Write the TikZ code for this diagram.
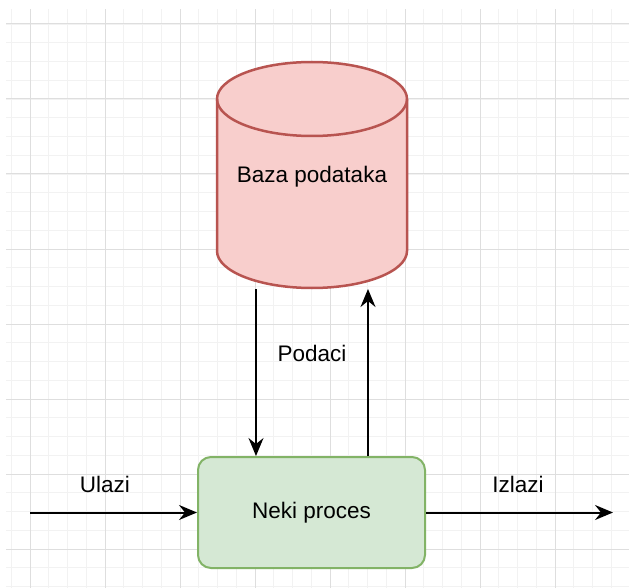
\documentclass[tikz,border=0pt]{standalone}
\usepackage{fontspec}
\setmainfont{Liberation Sans}
\usepackage{tikz}
\usetikzlibrary{arrows.meta}

\definecolor{dbfill}{HTML}{F8CECC}
\definecolor{dbline}{HTML}{B85450}
\definecolor{procfill}{HTML}{D5E8D4}
\definecolor{procline}{HTML}{82B366}
\definecolor{minorgrid}{HTML}{F2F2F2}
\definecolor{majorgrid}{HTML}{DEDEDE}

\begin{document}
\begin{tikzpicture}[x=1pt,y=1pt,line width=2pt,
                    flow/.style={-{Stealth[length=18pt,width=15pt,inset=6pt]},black},
                    proc node/.style={rectangle,rounded corners=13pt,draw=procline,fill=procfill,
                                      minimum width=227pt,minimum height=111pt,font=\fontsize{22.5}{27}\selectfont},
                    label node/.style={anchor=base,inner sep=0pt,font=\fontsize{22.5}{27}\selectfont}]

  \useasboundingbox (0,0) rectangle (629,-588);
  \fill[white] (0,0) rectangle (629,-588);

  % grid
  \draw[minorgrid,line width=0.8pt,shift={(30,-24)}] (-24,15) grid[step=18.75] (599,-564);
  \draw[majorgrid,line width=1pt,shift={(30,-24)}] (-24,15) grid[step=75] (599,-564);

  % database
  \draw[draw=dbline,fill=dbfill,line width=2.5pt]
    (217,-99) -- (217,-251) arc[start angle=180,end angle=360,x radius=95,y radius=37]
    -- (407,-99) arc[start angle=0,end angle=180,x radius=95,y radius=37] -- cycle;
  \draw[dbline,line width=2.5pt] (217,-99) arc[start angle=180,end angle=360,x radius=95,y radius=37];
  \node[label node] (db) at (312,-183) {Baza podataka};
  \coordinate (dbL) at (256,-289);
  \coordinate (dbR) at (368,-289);

  % process
  \node[proc node] (proc) at (311.5,-512.5) {Neki proces};
  \coordinate (in) at (30,-512.5);
  \coordinate (out) at (613,-512.5);

  \node[label node] (ulazi) at (105,-492) {Ulazi};
  \node[label node] (izlazi) at (518,-492) {Izlazi};
  \node[label node] (podaci) at (312,-361) {Podaci};

  \draw[flow] (dbL) -- (dbL |- proc.north);
  \draw[flow] (dbR |- proc.north) -- (dbR);
  \draw[flow] (in) -- (proc.west);
  \draw[flow] (proc.east) -- (out);
\end{tikzpicture}
\end{document}
